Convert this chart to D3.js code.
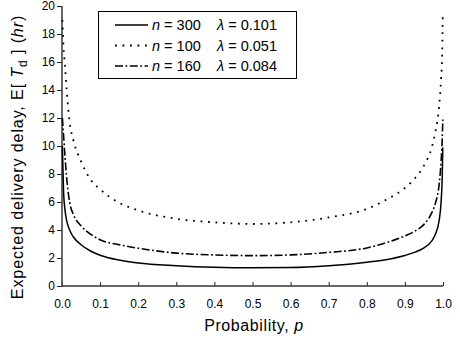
<!DOCTYPE html>
<html>
<head>
<meta charset="utf-8">
<script src="https://cdn.jsdelivr.net/npm/d3@7/dist/d3.min.js"></script>
<style>
  body { margin: 0; background: #fff; }
  text { font-family: "Liberation Sans", Arial, sans-serif; fill: #000; }
</style>
</head>
<body>
<div id="chart"></div>
<script>
// Probability values where the curves were read
const probs = [0.001, 0.004, 0.008, 0.012, 0.02, 0.03, 0.05, 0.075, 0.1, 0.15, 0.2, 0.3, 0.4, 0.5,
  0.6, 0.7, 0.8, 0.85, 0.9, 0.925, 0.95, 0.97, 0.98, 0.99, 0.995, 0.998, 0.9995];

// n = 300, lambda = 0.101 (solid)
const delayN300 = [10.0, 6.8, 5.4, 4.7, 4.0, 3.5, 2.95, 2.5, 2.2, 1.85, 1.64, 1.45, 1.34, 1.3,
  1.32, 1.45, 1.7, 1.88, 2.18, 2.4, 2.72, 3.2, 3.7, 4.7, 6.0, 7.8, 9.9];
// n = 100, lambda = 0.051 (dotted)
const delayN100 = [19.0, 17.1, 15.7, 14.1, 11.7, 10.4, 8.9, 7.6, 6.9, 5.95, 5.4, 4.8, 4.55, 4.43,
  4.55, 4.9, 5.5, 6.15, 7.0, 7.65, 8.6, 9.85, 11.0, 12.9, 14.8, 16.8, 19.6];
// n = 160, lambda = 0.084 (dash-dot)
const delayN160 = [12.0, 10.8, 9.2, 7.8, 6.0, 5.1, 4.3, 3.7, 3.3, 2.95, 2.7, 2.35, 2.22, 2.17,
  2.22, 2.4, 2.72, 3.08, 3.58, 3.9, 4.4, 5.2, 5.9, 7.3, 8.9, 10.5, 11.9];

const xTicks = [0, 0.1, 0.2, 0.3, 0.4, 0.5, 0.6, 0.7, 0.8, 0.9, 1.0];
const yTicks = [0, 2, 4, 6, 8, 10, 12, 14, 16, 18, 20];

const series = [
  { n: '300', lambda: '0.101', values: delayN300, dash: null, width: 1.5 },
  { n: '100', lambda: '0.051', values: delayN100, dash: '1.8,5.7', width: 1.8 },
  { n: '160', lambda: '0.084', values: delayN160, dash: '8,2.5,1.8,2.5', width: 1.6 }
];

const W = 460, H = 338;
const margin = { top: 6, right: 17, bottom: 52, left: 62 };
const width = W - margin.left - margin.right;
const height = H - margin.top - margin.bottom;

const svg = d3.select('#chart').append('svg')
  .attr('width', W).attr('height', H);
const g = svg.append('g')
  .attr('transform', `translate(${margin.left},${margin.top})`);

const x = d3.scaleLinear().domain([0, 1]).range([0, width]);
const y = d3.scaleLinear().domain([0, 20]).range([height, 0]);

// X axis: ticks point inward
const xAxis = g.append('g').attr('transform', `translate(0,${height})`);
xAxis.call(d3.axisBottom(x).tickValues(d3.range(0.05, 1, 0.1)).tickSize(-2).tickFormat(''));
xAxis.call(d3.axisBottom(x).tickValues(xTicks).tickSize(-4).tickPadding(13).tickFormat(d3.format('.1f')));
xAxis.selectAll('.domain').remove();
xAxis.selectAll('text').style('font-size', '12px');

// Y axis: ticks point outward
const yAxis = g.append('g');
yAxis.call(d3.axisLeft(y).tickValues(d3.range(1, 20, 2)).tickSize(3).tickFormat(''));
yAxis.call(d3.axisLeft(y).tickValues(yTicks).tickSize(5).tickPadding(2));
yAxis.selectAll('.domain').remove();
yAxis.selectAll('text').style('font-size', '12px');

g.selectAll('.tick line').attr('stroke', '#222');

g.append('line').attr('x1', 0).attr('x2', width).attr('y1', height).attr('y2', height)
  .attr('stroke', '#333').attr('stroke-width', 1.3);
g.append('line').attr('x1', 0).attr('x2', 0).attr('y1', 0).attr('y2', height)
  .attr('stroke', '#444').attr('stroke-width', 1.6);

// Curves
const line = d3.line()
  .x((d, i) => x(probs[i]))
  .y(d => y(d))
  .curve(d3.curveMonotoneX);

series.forEach(s => {
  g.append('path')
    .datum(s.values)
    .attr('fill', 'none')
    .attr('stroke', '#000')
    .attr('stroke-width', s.width)
    .attr('stroke-dasharray', s.dash)
    .attr('d', line);
});

// Legend
const legend = svg.append('g').attr('transform', 'translate(98,11)');
legend.append('rect')
  .attr('x', 0.5).attr('y', 0.5).attr('width', 198).attr('height', 67)
  .attr('fill', '#fff').attr('stroke', '#000').attr('stroke-width', 1);

series.forEach((s, i) => {
  const ly = 14 + i * 20.5;
  legend.append('line')
    .attr('x1', 17).attr('x2', 50).attr('y1', ly).attr('y2', ly)
    .attr('stroke', '#000').attr('stroke-width', s.width)
    .attr('stroke-dasharray', s.dash);
  const t = legend.append('text').attr('x', 54).attr('y', ly + 5).style('font-size', '14.5px');
  t.append('tspan').style('font-style', 'italic').text('n');
  t.append('tspan').text(` = ${s.n}`);
  const t2 = legend.append('text').attr('x', 119).attr('y', ly + 5).style('font-size', '14.5px');
  t2.append('tspan').style('font-style', 'italic').text('λ');
  t2.append('tspan').text(` = ${s.lambda}`);
});

// Axis titles
const xt = svg.append('text')
  .attr('x', 254).attr('y', 331)
  .attr('text-anchor', 'middle')
  .style('font-size', '16px')
  .style('letter-spacing', '0.6px');
xt.append('tspan').text('Probability, ');
xt.append('tspan').style('font-style', 'italic').text('p');

const yt = svg.append('text')
  .attr('transform', 'translate(23,157) rotate(-90)')
  .attr('text-anchor', 'middle')
  .style('font-size', '16px')
  .style('letter-spacing', '0.9px');
yt.append('tspan').text('Expected delivery delay, E[ ');
yt.append('tspan').style('font-style', 'italic').text('T');
yt.append('tspan').attr('dy', 4).style('font-size', '12px').text('d');
yt.append('tspan').attr('dy', -4).text(' ] (');
yt.append('tspan').style('font-style', 'italic').text('hr');
yt.append('tspan').text(')');
</script>
</body>
</html>
